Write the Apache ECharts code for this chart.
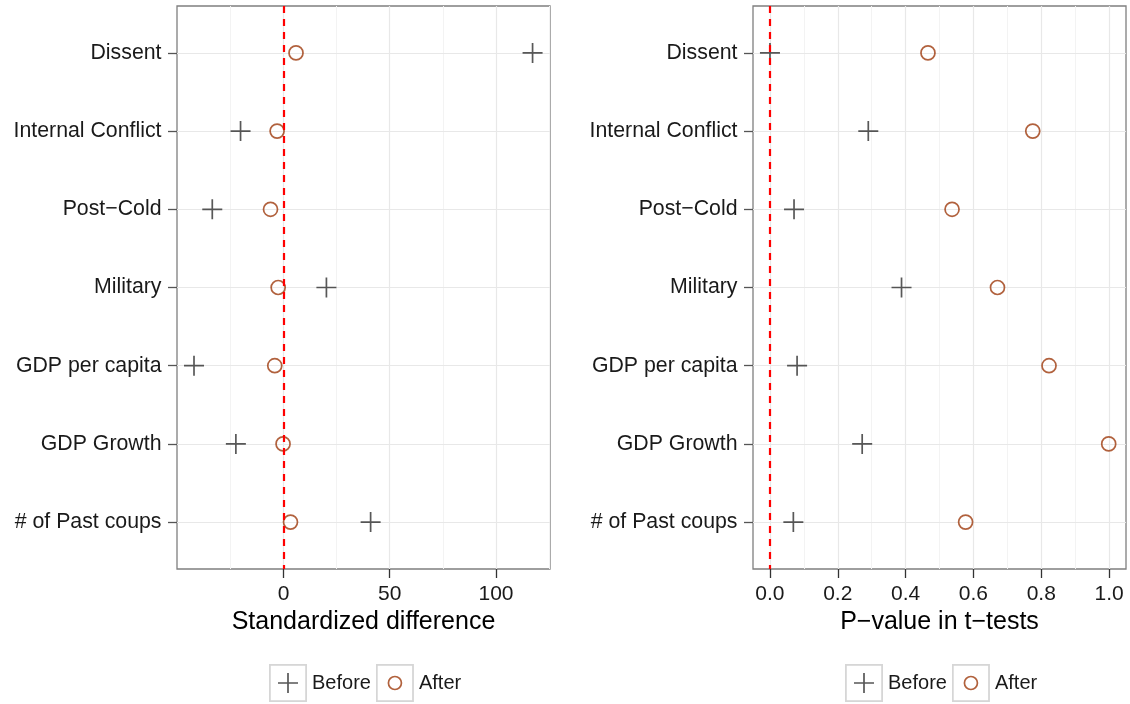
<!DOCTYPE html>
<html>
<head>
<meta charset="utf-8">
<title>Covariate balance before and after matching</title>
<script src="https://cdn.jsdelivr.net/npm/echarts@6/dist/echarts.min.js"></script>
<style>
  html, body { margin: 0; padding: 0; background: #ffffff; }
  #chart { width: 1130px; height: 704px; }
</style>
</head>
<body>
<div id="chart"></div>
<script>
// Covariates, listed top to bottom
const categories = ['Dissent', 'Internal Conflict', 'Post\u2212Cold', 'Military',
                    'GDP per capita', 'GDP Growth', '# of Past coups'];

// Standardized difference (%) before / after matching
const stdBefore = [117.2, -20.2, -33.5, 20.2, -42.1, -22.4, 41.0];
const stdAfter  = [5.9, -3.0, -6.1, -2.5, -4.1, -0.2, 3.3];

// P-values of t-tests before / after matching
const pBefore = [0.0, 0.290, 0.071, 0.388, 0.080, 0.272, 0.069];
const pAfter  = [0.466, 0.775, 0.537, 0.671, 0.823, 0.999, 0.577];

// Axis ticks and ranges
const stdTicks = [0, 50, 100];
const stdMinor = [-25, 25, 75, 125];
const stdRange = [-50.1, 125.4];
const pTicks = [0, 0.2, 0.4, 0.6, 0.8, 1.0];
const pMinor = [0.1, 0.3, 0.5, 0.7, 0.9];
const pRange = [-0.05, 1.05];

const FONT = '"Liberation Sans", Arial, Helvetica, sans-serif';
const TEXT = '#1a1a1a';
const BROWN = '#9e3a0c';
const CROSS = '#2e2e2e';
const PLUS = 'path://M0,10L20,10M10,0L10,20';

const svgIcon = inner =>
  'image://data:image/svg+xml;charset=utf-8,' + encodeURIComponent(
    "<svg xmlns='http://www.w3.org/2000/svg' width='38' height='38'>" +
    "<rect x='0.9' y='0.9' width='36.2' height='36.2' fill='#ffffff' stroke='#cccccc' stroke-width='1.8'/>" +
    inner + "</svg>");
const iconBefore = svgIcon("<path d='M9 19H29M19 9V29' stroke='" + CROSS + "' stroke-width='1.7' fill='none'/>");
const iconAfter = svgIcon("<circle cx='19' cy='19' r='6.5' stroke='" + BROWN + "' stroke-width='1.7' fill='none'/>");

const majorLine = { color: '#e8e8e8', width: 1.2, type: 'solid' };
const minorLine = { color: '#f3f3f3', width: 1, type: 'solid' };

const panels = [
  { grid: { left: 177, right: 580, top: 6, bottom: 135 },
    range: stdRange, ticks: stdTicks, minor: stdMinor,
    before: stdBefore, after: stdAfter,
    title: 'Standardized difference', fmt: v => String(Math.round(v)) },
  { grid: { left: 753, right: 4, top: 6, bottom: 135 },
    range: pRange, ticks: pTicks, minor: pMinor,
    before: pBefore, after: pAfter,
    title: 'P\u2212value in t\u2212tests', fmt: v => v.toFixed(1) }
];

const catIndex = categories.map((c, i) => i + 1);

const option = {
  animation: false,
  backgroundColor: '#ffffff',
  textStyle: { fontFamily: FONT },
  grid: panels.map(p => Object.assign({
    show: true, borderColor: '#7f7f7f', borderWidth: 1.3, backgroundColor: 'transparent'
  }, p.grid)),
  xAxis: panels.map((p, k) => ({
    type: 'value', gridIndex: k, min: p.range[0], max: p.range[1], position: 'bottom',
    axisLine: { show: false, onZero: false },
    splitLine: { show: false },
    axisTick: { show: true, customValues: p.ticks, length: 9,
                lineStyle: { color: '#333333', width: 1.3 } },
    axisLabel: { customValues: p.ticks, formatter: p.fmt, margin: 15,
                 fontSize: 21, color: TEXT, fontFamily: FONT },
    name: p.title, nameLocation: 'middle', nameGap: 37,
    nameTextStyle: { fontSize: 25, color: '#000000', fontFamily: FONT }
  })),
  yAxis: panels.map((p, k) => ({
    type: 'value', gridIndex: k, inverse: true, min: 0.4, max: 7.6, position: 'left',
    axisLine: { show: false, onZero: false },
    splitLine: { show: false },
    axisTick: { show: true, customValues: catIndex, length: 9,
                lineStyle: { color: '#555555', width: 1.3 } },
    axisLabel: { customValues: catIndex, margin: 15.5,
                 formatter: v => categories[Math.round(v) - 1] || '',
                 fontSize: 21.3, color: TEXT, fontFamily: FONT }
  })),
  legend: [269, 845].map(x => ({
    left: x, top: 664, orient: 'horizontal', padding: 0,
    itemWidth: 38, itemHeight: 38, itemGap: 5, selectedMode: false,
    textStyle: { fontSize: 20, color: TEXT, fontFamily: FONT },
    data: [{ name: 'Before', icon: iconBefore }, { name: 'After', icon: iconAfter }]
  })),
  series: []
};

panels.forEach((p, k) => {
  // background grid lines, kept beneath the points
  option.series.push({
    type: 'scatter', xAxisIndex: k, yAxisIndex: k, data: [], silent: true, z: 0,
    markLine: {
      silent: true, z: 0, symbol: ['none', 'none'], label: { show: false }, animation: false,
      emphasis: { disabled: true },
      data: [].concat(
        p.minor.map(v => ({ xAxis: v, lineStyle: minorLine })),
        p.ticks.map(v => ({ xAxis: v, lineStyle: majorLine })),
        catIndex.map(v => ({ yAxis: v, lineStyle: majorLine }))
      )
    }
  });
  option.series.push({
    name: 'Before', type: 'scatter', xAxisIndex: k, yAxisIndex: k, z: 3,
    symbol: PLUS, symbolSize: 20,
    itemStyle: { color: 'rgba(0,0,0,0)', borderColor: CROSS, borderWidth: 1.7 },
    data: p.before.map((v, i) => [v, i + 1])
  });
  option.series.push({
    name: 'After', type: 'scatter', xAxisIndex: k, yAxisIndex: k, z: 3,
    symbol: 'circle', symbolSize: 14,
    itemStyle: { color: 'rgba(0,0,0,0)', borderColor: BROWN, borderWidth: 1.7 },
    data: p.after.map((v, i) => [v, i + 1])
  });
  // reference line at zero
  option.series.push({
    type: 'scatter', xAxisIndex: k, yAxisIndex: k, data: [], silent: true, z: 6,
    markLine: {
      silent: true, z: 6, symbol: ['none', 'none'], label: { show: false }, animation: false,
      emphasis: { disabled: true },
      data: [{ xAxis: 0 }],
      lineStyle: { color: '#ff0000', width: 2.2, type: [7, 6] }
    }
  });
});

const chart = echarts.init(document.getElementById('chart'), null, { renderer: 'canvas' });
chart.setOption(option);
</script>
</body>
</html>
